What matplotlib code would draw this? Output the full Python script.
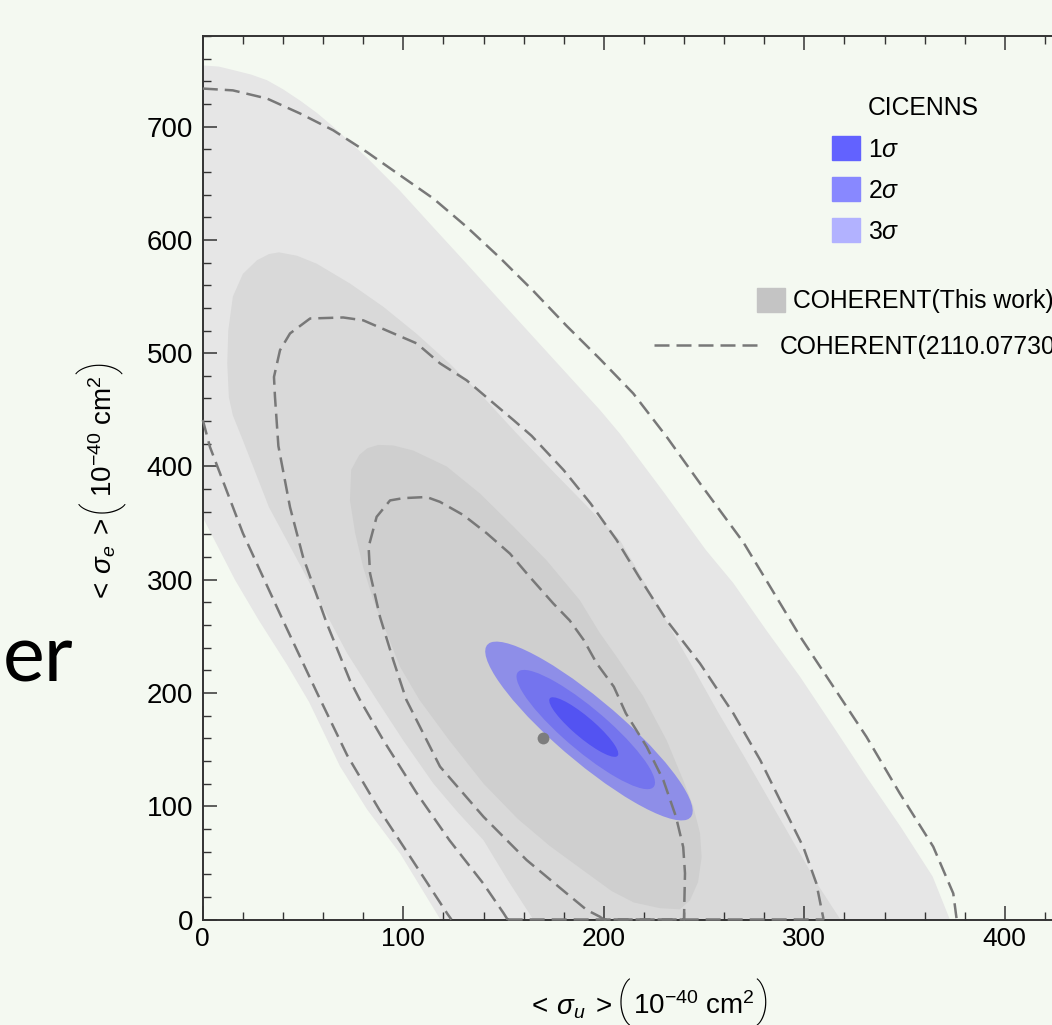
import matplotlib
matplotlib.use('Agg')
import matplotlib.pyplot as plt
from matplotlib.patches import Ellipse, Patch
from matplotlib.lines import Line2D
from matplotlib.ticker import MultipleLocator
from matplotlib.transforms import IdentityTransform

plt.rcParams['font.family'] = ['Liberation Sans', 'DejaVu Sans']
plt.rcParams['mathtext.fontset'] = 'custom'
plt.rcParams['mathtext.rm'] = 'Liberation Sans'
plt.rcParams['mathtext.it'] = 'Liberation Sans:italic'
plt.rcParams['mathtext.bf'] = 'Liberation Sans:bold'

# ---------------- data ----------------
x_ticks = [0, 100, 200, 300, 400]
y_ticks = [0, 100, 200, 300, 400, 500, 600, 700]

# COHERENT (This work) regions, outermost -> innermost
light_x = [0, 8, 15, 24, 32, 40, 48.5, 57, 65, 81.6, 98, 115, 131.6, 148, 165, 181.5, 198, 208,
           230, 251, 264.6, 281, 298, 314.6, 331, 348, 364, 372.6, 118.5, 98.5, 82, 68.5, 53,
           42, 28, 16, 0]
light_y = [754, 753, 750, 746, 741, 733, 723, 712, 700, 673, 644, 611, 579, 547, 514, 482, 450,
           429, 377, 326, 297, 255.5, 214, 170, 126, 82, 38, 0, 0, 58, 97, 135, 192,
           225, 264, 300, 355]

medium_x = [38, 47, 56.8, 73.4, 90, 106.7, 123, 140, 156.6, 175, 191, 208, 219, 231, 244, 257,
            270, 283, 296, 307, 318, 164.8, 152, 140, 127, 115, 100, 86.7, 72, 60, 47, 33,
            20, 15, 13, 12.2, 12.7, 15, 20, 27, 33]
medium_y = [589, 586, 579, 561.5, 541, 517, 491, 461, 429, 395, 366, 335, 302, 264, 224, 183,
            144, 104, 64, 30, 0, 0, 35, 70, 95, 120, 158, 194, 235, 275, 318, 364,
            423, 445, 461, 491, 520, 550, 570, 582, 587.5]

dark_x = [87.5, 95, 105, 121.6, 138.3, 154.9, 171.5, 188, 198, 206.4, 219.7, 231.4, 239.6,
          244.6, 248, 248.8, 247, 243, 238, 228, 215, 204, 190, 173, 157, 140, 123, 108,
          98.4, 91.7, 85, 80, 76, 73.4, 74, 78, 82]
dark_y = [419, 418.5, 414, 400, 376, 347, 317, 282, 253, 232, 197, 158, 123,
          100, 76, 55, 33, 17, 9, 10, 15, 25, 43, 65, 89, 120, 158, 194,
          223, 253, 282, 311, 341, 370, 397, 410, 416]

# CICENNS ellipses (3sigma, 2sigma, 1sigma): centre, full width, full height, angle
cic_cx = [192.6, 191.0, 190.0]
cic_cy = [166.4, 167.7, 169.9]
cic_w = [184.5, 123.0, 61.5]
cic_h = [40.0, 27.0, 13.2]
cic_angle = -58.0

# COHERENT(2110.07730) dashed contours
dash_outer_a_x = [0, 3.6, 20, 40, 57, 72, 88, 104.5, 122, 124]
dash_outer_a_y = [441, 417, 341, 264, 200, 145, 97, 52.5, 5, 0]
dash_outer_b_x = [0, 15, 32, 48.5, 65, 81.7, 98.4, 115, 131.6, 148.3, 164.8, 181.5, 198,
                  214.7, 231.4, 248, 269.6, 281, 298, 314.5, 331, 347.6, 364.3, 374.3, 376]
dash_outer_b_y = [733.6, 732, 724.8, 711.6, 696.8, 677.7, 657, 636.5, 611.5, 584, 555, 524, 495,
                  464.4, 426, 385, 333, 299.6, 249.6, 205.5, 161.3, 111.4, 64.3, 23, 0]
dash_mid_x = [152, 150, 139.8, 123, 106.7, 90, 78.4, 73.4, 61.8, 50, 43.5, 37.7, 36, 35.5, 38.5,
              43.5, 53.5, 70, 80, 91.7, 106.7, 118.3, 131.6, 143.2, 154.9, 164, 180, 193.4,
              206.4, 217.5, 231.4, 248, 264.6, 278, 289.5, 299.5, 306, 309.5, 309.5, 152]
dash_mid_y = [0, 5.6, 32, 70, 111.5, 158.4, 193.8, 211, 261.6, 320, 364, 418, 461.4, 479, 502.6,
              517.4, 530.6, 531.5, 529, 520, 508.6, 491, 476, 458.5, 441, 427, 396.7, 367.3,
              335, 302.6, 264, 226, 182, 140.8, 99.6, 64, 32, 1, 0, 0]
dash_in_x = [200, 198, 191.5, 181.5, 161.5, 140, 118.3, 101.5, 95, 88.4, 83.4, 82.7, 86.7, 93.4,
             100, 111.6, 118.3, 130, 141.6, 153.2, 163, 174.8, 183, 190, 196.5, 205, 211,
             221.4, 229.7, 236, 239.6, 240.5, 240, 240, 200]
dash_in_y = [0, 2.5, 8.4, 23, 52.5, 90.7, 135, 194, 229, 267, 305.7, 329, 355.5, 370,
             372, 373, 368.7, 357, 341, 323, 302.6, 279, 264, 246.7, 226, 205.5, 182,
             152.5, 123, 90.7, 64, 40.8, 1, 0, 0]

best_fit_x = [169.7]
best_fit_y = [160.2]

legend_cic_labels = ['CICENNS', r'$1\sigma$', r'$2\sigma$', r'$3\sigma$']
legend_coh_labels = ['COHERENT(This work)', 'COHERENT(2110.07730)']

# ---------------- styles ----------------
BG = '#f4f9f1'
C_LIGHT, C_MED, C_DARK = '#e6e6e6', '#d9d9d9', '#cfcfcf'
C_BLUE_FILL = ['#8e8ee8', '#7474ee', '#5353f2']     # 3s, 2s, 1s on plot
C_BLUE_LEG = ['#6262ff', '#8888ff', '#b2b2ff']      # 1s, 2s, 3s legend
C_DASH = '#787878'
DASH = (0, (6, 2.8))
LW = 1.8

W, H = 1052, 1025
fig = plt.figure(figsize=(W / 100, H / 100), dpi=100)
fig.patch.set_facecolor(BG)
ax = fig.add_axes([202.8 / W, (H - 919.5) / H, 444 * 2.005 / W, (919.5 - 36) / H])
ax.set_facecolor(BG)
ax.set_xlim(0, 444)
ax.set_ylim(0, 780)

ax.fill(light_x, light_y, color=C_LIGHT, lw=0, zorder=0.5)
ax.fill(medium_x, medium_y, color=C_MED, lw=0, zorder=0.6)
ax.fill(dark_x, dark_y, color=C_DARK, lw=0, zorder=0.7)

for i in range(3):
    ax.add_patch(Ellipse((cic_cx[i], cic_cy[i]), cic_w[i], cic_h[i], angle=cic_angle,
                         facecolor=C_BLUE_FILL[i], edgecolor='none', zorder=1 + 0.1 * i))

for xs, ys in [(dash_outer_a_x, dash_outer_a_y), (dash_outer_b_x, dash_outer_b_y),
               (dash_mid_x, dash_mid_y), (dash_in_x, dash_in_y)]:
    ax.plot(xs, ys, color=C_DASH, lw=LW, linestyle=DASH, zorder=3, clip_on=False,
            solid_joinstyle='round', dash_capstyle='butt')

ax.plot(best_fit_x, best_fit_y, 'o', ms=8.5, color='#7d7d7d', mec='none', zorder=3.5)

# axes styling
ax.set_xticks(x_ticks)
ax.set_yticks(y_ticks)
ax.xaxis.set_minor_locator(MultipleLocator(20))
ax.yaxis.set_minor_locator(MultipleLocator(20))
ax.tick_params(which='both', direction='in', top=True, right=True, color='#333333',
               labelcolor='black')
ax.tick_params(which='major', length=10, width=1.1)
ax.tick_params(which='minor', length=5.8, width=1.0)
ax.tick_params(axis='x', pad=5.5, labelsize=19)
ax.tick_params(axis='y', pad=7, labelsize=20)
for s in ax.spines.values():
    s.set_color('#333333')
    s.set_linewidth(1.4)

# axis labels composed of pieces (tall thin brackets as in the original)
renderer = fig.canvas.get_renderer()
PAREN = dict(size=33, family=['Roboto', 'Liberation Sans'], weight='light')
TXT = dict(size=20, family=['Liberation Sans'], weight='normal')


def draw_label(pieces, center, base, vertical):
    arts = []
    for s, st, gap, dy in pieces:
        t = fig.text(0, 0, s, fontsize=st['size'], family=st['family'],
                     fontweight=st['weight'], rotation=90 if vertical else 0,
                     rotation_mode='anchor', ha='left', va='baseline',
                     transform=IdentityTransform())
        arts.append((t, gap, dy))
    lengths = []
    for t, gap, dy in arts:
        bb = t.get_window_extent(renderer)
        lengths.append(bb.height if vertical else bb.width)
    total = sum(lengths) + sum(a[1] for a in arts)
    pos = center - total / 2
    for (t, gap, dy), L in zip(arts, lengths):
        pos += gap
        if vertical:
            t.set_position((base - dy, pos))
        else:
            t.set_position((pos, base + dy))
        pos += L


ax_left_px, ax_bottom_px = ax.transAxes.transform((0, 0))
ax_cx, ax_cy = ax.transAxes.transform((0.5, 0.5))
draw_label([(r'$<\,\sigma_u\;>$', TXT, 0, 0), ('(', PAREN, 5, -1),
            (r'$10^{-40}\ \mathrm{cm}^2$', TXT, 2, 0), (')', PAREN, 1, -1)],
           ax_cx, ax_bottom_px - 95, vertical=False)
draw_label([(r'$<\,\sigma_e\;>$', TXT, 0, 0), ('(', PAREN, 5, -1),
            (r'$10^{-40}\ \mathrm{cm}^2$', TXT, 2, 0), (')', PAREN, 1, -1)],
           ax_cy - 4, ax_left_px - 91, vertical=True)

# legends
fs = 17.8
h1 = [Patch(facecolor='none', edgecolor='none'), Patch(color=C_BLUE_LEG[0]),
      Patch(color=C_BLUE_LEG[1]), Patch(color=C_BLUE_LEG[2])]
fig.legend(h1, legend_cic_labels, loc='upper left',
           bbox_to_anchor=(832 / W, 1 - 95 / H), frameon=False, fontsize=fs,
           handlelength=1.13, handleheight=1.13, handletextpad=0.32, labelspacing=0.63,
           borderpad=0, borderaxespad=0)
fig.legend([Patch(color='#c4c4c4')], legend_coh_labels[:1], loc='upper left',
           bbox_to_anchor=(757 / W, 1 - 287.7 / H), frameon=False, fontsize=fs,
           handlelength=1.13, handleheight=1.13, handletextpad=0.32,
           borderpad=0, borderaxespad=0)
fig.legend([Line2D([], [], color=C_DASH, lw=LW, linestyle=DASH)], legend_coh_labels[1:],
           loc='upper left', bbox_to_anchor=(654 / W, 1 - 334.5 / H), frameon=False,
           fontsize=fs, handlelength=4.3, handletextpad=0.8, borderpad=0, borderaxespad=0)

# slide text fragment on the left
fig.text(73 / W, (H - 681) / H, 'er', ha='right', va='baseline', fontsize=57,
         family=['Lato', 'DejaVu Sans'], color='black')

fig.savefig('out.png', dpi=100, facecolor=BG)
